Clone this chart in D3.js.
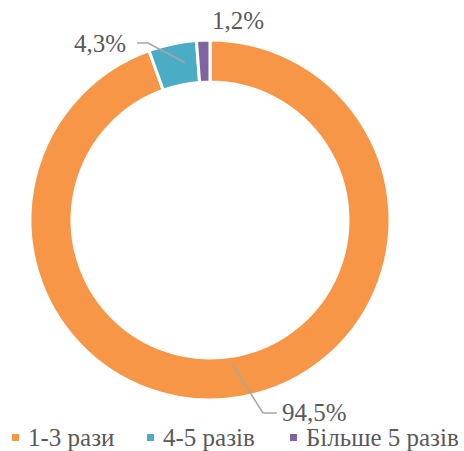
<!DOCTYPE html>
<html><head><meta charset="utf-8">
<script src="https://cdn.jsdelivr.net/npm/d3@7"></script>
<style>body{margin:0;background:#fff}</style>
</head><body>
<svg id="c" width="464" height="451"></svg>
<script>
const categories = ["1-3 рази", "4-5 разів", "Більше 5 разів"];
const values = [94.5, 4.3, 1.2];
const valueLabels = ["94,5%", "4,3%", "1,2%"];
const colors = ["#F79646", "#4BACC6", "#8064A2"];

const svg = d3.select("#c");
const font = "'Liberation Serif', serif";
const fs = 25;
const cx = 210, cy = 220, rOut = 180, rIn = 138;
const g = svg.append("g").attr("transform", `translate(${cx},${cy})`);
const pie = d3.pie().sort(null).value(d => d)(values);
const arc = d3.arc().innerRadius(rIn).outerRadius(rOut);
g.selectAll("path").data(pie).enter().append("path")
  .attr("d", arc).attr("fill", (d, i) => colors[i])
  .attr("stroke", "#fff").attr("stroke-width", 3);

const mid = d3.arc().innerRadius((rIn + rOut) / 2).outerRadius((rIn + rOut) / 2);
const labelSpec = [
  {bend: [263 - cx, 413 - cy], end: [277 - cx, 413 - cy], tx: 282 - cx, ty: 421 - cy, anchor: "start", line: true},
  {bend: [148 - cx, 43 - cy], end: [137 - cx, 43 - cy], tx: 126 - cx, ty: 52 - cy, anchor: "end", line: true},
  {tx: 238 - cx, ty: 29 - cy, anchor: "middle", line: false}
];
pie.forEach((d, i) => {
  const s = labelSpec[i];
  if (s.line) {
    const c = mid.centroid(d);
    const p0 = [c[0] + (i === 0 ? -5 : 8), c[1] + (i === 0 ? -12 : -2)];
    g.append("polyline")
      .attr("points", [p0, s.bend, s.end].map(p => p.join(",")).join(" "))
      .attr("fill", "none").attr("stroke", "#A6A6A6").attr("stroke-width", 1.5);
  }
  g.append("text").attr("x", s.tx).attr("y", s.ty).attr("text-anchor", s.anchor)
    .attr("font-family", font).attr("font-size", fs).attr("fill", "#595959")
    .text(valueLabels[i]);
});

const legX = [12, 147, 290];
const leg = svg.append("g");
categories.forEach((c, i) => {
  leg.append("rect").attr("x", legX[i]).attr("y", 434).attr("width", 7).attr("height", 7).attr("fill", colors[i]);
  leg.append("text").attr("x", legX[i] + 16).attr("y", 446)
    .attr("font-family", font).attr("font-size", fs).attr("fill", "#595959").text(c);
});
</script>
</body></html>
